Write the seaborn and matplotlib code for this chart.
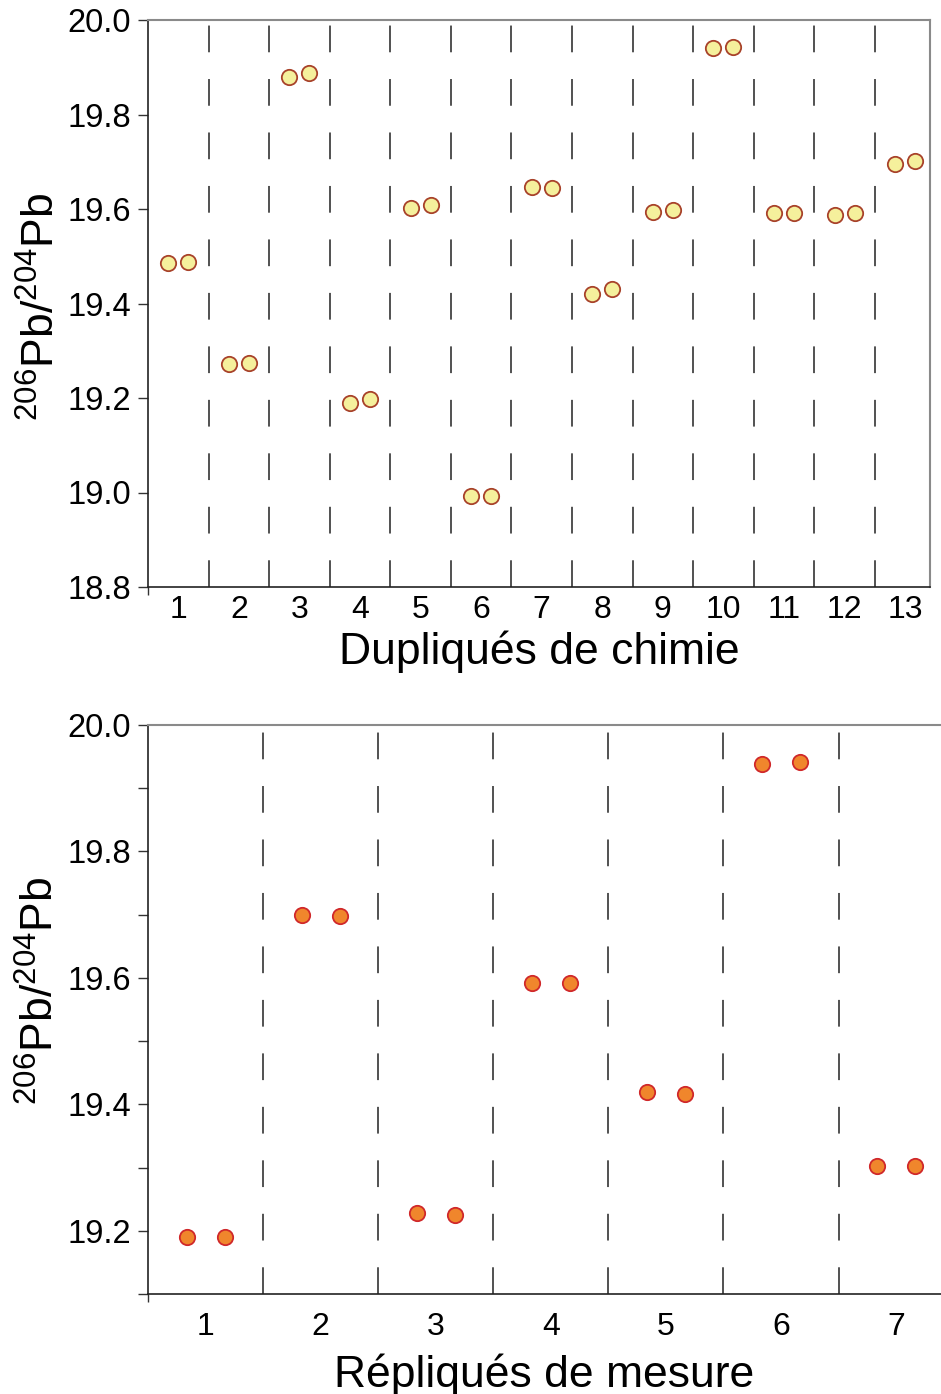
import numpy as np
import pandas as pd
import matplotlib
matplotlib.use("Agg")
import matplotlib.pyplot as plt
import seaborn as sns

# ---- data ----
chem_groups = list(range(1, 14))
chem_rep_a = [19.486, 19.272, 19.879, 19.189, 19.602, 18.993, 19.647,
              19.420, 19.594, 19.941, 19.592, 19.587, 19.695]
chem_rep_b = [19.488, 19.274, 19.888, 19.198, 19.608, 18.993, 19.644,
              19.431, 19.598, 19.943, 19.592, 19.592, 19.702]

meas_groups = list(range(1, 8))
meas_rep_a = [19.190, 19.700, 19.228, 19.592, 19.420, 19.938, 19.303]
meas_rep_b = [19.190, 19.698, 19.225, 19.592, 19.417, 19.942, 19.303]

sns.set_style("white")
plt.rcParams["font.family"] = ["Liberation Sans", "DejaVu Sans"]
plt.rcParams["mathtext.default"] = "regular"
plt.rcParams["text.color"] = "black"
plt.rcParams["axes.labelcolor"] = "black"
plt.rcParams["xtick.color"] = "black"
plt.rcParams["ytick.color"] = "black"

YLABEL = "$^{206}$Pb/$^{204}$Pb"
DODGE = 0.165


def long_frame(groups, rep_a, rep_b):
    df = pd.DataFrame({"group": groups * 2,
                       "ratio": rep_a + rep_b,
                       "rep": [0] * len(groups) + [1] * len(groups)})
    df["xpos"] = df["group"] + np.where(df["rep"] == 0, -DODGE, DODGE)
    return df


def panel(ax, df, groups, fill, edge, xlim, ylim, major, minor, xlabel, tickpad):
    sns.scatterplot(data=df, x="xpos", y="ratio", ax=ax, s=122,
                    color=fill, edgecolor=edge, linewidth=1.3,
                    legend=False, zorder=3)
    for b in np.array(groups[:-1]) + 0.5:
        ax.axvline(b, color="#222222", lw=1.1, ls=(0, (17.5, 17.5)), zorder=1)
    ax.set_xlim(*xlim)
    ax.set_ylim(*ylim)
    ax.set_yticks(major)
    ax.set_yticklabels([f"{v:.1f}" for v in major])
    ax.set_yticks(minor, minor=True)
    ax.set_xticks(groups)
    ax.set_xticklabels([str(g) for g in groups])
    ax.set_xticks([xlim[0]], minor=True)
    ax.tick_params(axis="y", which="both", direction="out", length=7, width=1,
                   color="#333333", labelsize=23.5, pad=5, left=True)
    ax.tick_params(axis="x", which="major", length=0, labelsize=23, pad=tickpad)
    ax.tick_params(axis="x", which="minor", direction="out", length=6,
                   width=1, color="#333333", bottom=True)
    for side in ["left", "bottom"]:
        ax.spines[side].set_color("#222222")
        ax.spines[side].set_linewidth(1.2)
    for side in ["top", "right"]:
        ax.spines[side].set_color("#8a8a8a")
        ax.spines[side].set_linewidth(1.5)
    ax.set_xlabel(xlabel, fontsize=32)
    ax.set_ylabel(YLABEL, fontsize=32)


W, H = 941, 1394
fig = plt.figure(figsize=(W / 100, H / 100), dpi=100)

ax1 = fig.add_axes([148 / W, 1 - 587 / H, (930 - 148) / W, (587 - 20) / H])
panel(ax1, long_frame(chem_groups, chem_rep_a, chem_rep_b), chem_groups,
      "#f5f09c", "#a8422a", (0.5, 13.41), (18.8, 20.0),
      np.arange(18.8, 20.01, 0.2), [], "Dupliqués de chimie", 6)
ax1.xaxis.labelpad = 4
ax1.yaxis.set_label_coords(-0.108, 0.495)

ax2 = fig.add_axes([148 / W, 1 - 1294 / H, (941 - 148) / W, (1294 - 725) / H])
panel(ax2, long_frame(meas_groups, meas_rep_a, meas_rep_b), meas_groups,
      "#f0862c", "#d0282a", (0.5, 7.39), (19.1, 20.0),
      np.arange(19.2, 20.01, 0.2), np.arange(19.1, 20.0, 0.2),
      "Répliqués de mesure", 13)
ax2.spines["right"].set_visible(False)
ax2.xaxis.labelpad = 8
ax2.yaxis.set_label_coords(-0.107, 0.533)

fig.savefig("out.png", dpi=100)
